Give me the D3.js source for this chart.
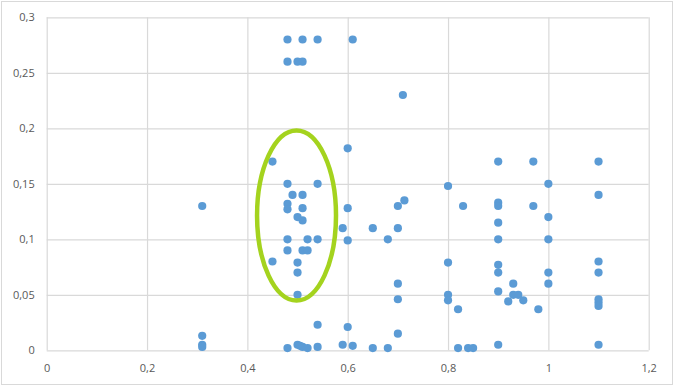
<!DOCTYPE html>
<html>
<head>
<meta charset="utf-8">
<script src="https://cdn.jsdelivr.net/npm/d3@7"></script>
<style>
  body { margin: 0; background: #fff; }
  svg { display: block; }
</style>
</head>
<body>
<div id="chart"></div>
<script>
var w = 681;
var h = 391;

// tick values and labels (comma decimals as in the original)
var xTickValues = [0, 0.2, 0.4, 0.6, 0.8, 1, 1.2];
var xTickLabels = ["0", "0,2", "0,4", "0,6", "0,8", "1", "1,2"];
var yTickValues = [0, 0.05, 0.1, 0.15, 0.2, 0.25, 0.3];
var yTickLabels = ["0", "0,05", "0,1", "0,15", "0,2", "0,25", "0,3"];

// scatter points
var xValues = [
  0.31, 0.31, 0.31, 0.31,
  0.45, 0.45,
  0.48, 0.51, 0.54, 0.61,
  0.48, 0.50, 0.51,
  0.71, 0.60,
  0.48, 0.54, 0.49, 0.51,
  0.48, 0.48, 0.51, 0.50, 0.51,
  0.48, 0.52, 0.54, 0.48, 0.51, 0.52,
  0.50, 0.50, 0.50,
  0.54, 0.60,
  0.48, 0.50, 0.505, 0.51, 0.52, 0.54, 0.59, 0.61, 0.65, 0.68,
  0.59, 0.60, 0.60, 0.65, 0.68,
  0.70, 0.713, 0.70, 0.70, 0.70, 0.70,
  0.80, 0.80, 0.80, 0.80, 0.82, 0.82, 0.84, 0.85, 0.83,
  0.90, 0.90, 0.90, 0.90, 0.90, 0.90, 0.90, 0.90, 0.90,
  0.92, 0.93, 0.93, 0.94, 0.95, 0.98,
  0.97, 0.97,
  1.0, 1.0, 1.0, 1.0, 1.0,
  1.1, 1.1, 1.1, 1.1, 1.1, 1.1, 1.1, 1.1
];
var yValues = [
  0.13, 0.013, 0.005, 0.003,
  0.17, 0.08,
  0.28, 0.28, 0.28, 0.28,
  0.26, 0.26, 0.26,
  0.23, 0.182,
  0.15, 0.15, 0.14, 0.14,
  0.132, 0.127, 0.128, 0.12, 0.117,
  0.10, 0.10, 0.10, 0.09, 0.09, 0.09,
  0.079, 0.07, 0.05,
  0.023, 0.021,
  0.002, 0.005, 0.004, 0.003, 0.002, 0.003, 0.005, 0.004, 0.002, 0.002,
  0.11, 0.128, 0.099, 0.11, 0.10,
  0.13, 0.135, 0.11, 0.06, 0.046, 0.015,
  0.148, 0.079, 0.05, 0.045, 0.037, 0.002, 0.002, 0.002, 0.13,
  0.17, 0.133, 0.13, 0.115, 0.10, 0.077, 0.07, 0.053, 0.005,
  0.044, 0.06, 0.05, 0.05, 0.045, 0.037,
  0.17, 0.13,
  0.15, 0.12, 0.10, 0.07, 0.06,
  0.17, 0.14, 0.08, 0.07, 0.046, 0.043, 0.04, 0.005
];

// highlight ellipse (center and radii in data units)
var ellipseCenter = [0.498, 0.1214];
var ellipseRadii = [0.0787, 0.0766];

var points = xValues.map(function(x, i) { return {x: x, y: yValues[i]}; });

var svg = d3.select("#chart")
  .append("svg")
  .attr("width", w)
  .attr("height", h);

// chart area frame
svg.append("rect")
  .attr("x", 1.5)
  .attr("y", 1.5)
  .attr("width", 671)
  .attr("height", 383)
  .attr("fill", "#fff")
  .attr("stroke", "#d9d9d9");

var xScale = d3.scaleLinear()
  .domain([0, 1.2])
  .range([46.7, 648.7]);

var yScale = d3.scaleLinear()
  .domain([0, 0.3])
  .range([350.3, 17.3]);

var plotW = xScale.range()[1] - xScale.range()[0];
var plotH = yScale.range()[0] - yScale.range()[1];

var yAxis = d3.axisLeft(yScale)
  .tickValues(yTickValues)
  .tickSize(-plotW)
  .tickPadding(12)
  .tickFormat(function(d, i) { return yTickLabels[i]; });

var xAxis = d3.axisBottom(xScale)
  .tickValues(xTickValues)
  .tickSize(-plotH)
  .tickPadding(14)
  .tickFormat(function(d, i) { return xTickLabels[i]; });

var gy = svg.append("g")
  .attr("transform", "translate(" + xScale.range()[0] + ",0)")
  .call(yAxis);

var gx = svg.append("g")
  .attr("transform", "translate(0," + yScale.range()[0] + ")")
  .call(xAxis);

[gx, gy].forEach(function(g) {
  g.select(".domain").remove();
  g.selectAll("line")
    .attr("stroke", "#d9d9d9")
    .attr("stroke-width", 1.2);
  g.selectAll("text")
    .attr("fill", "#595959")
    .attr("font-family", "'Open Sans', sans-serif")
    .attr("font-size", 11);
});

// dots
svg.append("g")
  .selectAll("circle")
  .data(points)
  .enter()
  .append("circle")
  .attr("cx", function(d) { return xScale(d.x); })
  .attr("cy", function(d) { return yScale(d.y); })
  .attr("r", 4.1)
  .attr("fill", "#5b9bd5");

// green highlight ellipse
svg.append("ellipse")
  .attr("cx", xScale(ellipseCenter[0]))
  .attr("cy", yScale(ellipseCenter[1]))
  .attr("rx", xScale(ellipseRadii[0]) - xScale(0))
  .attr("ry", yScale(0) - yScale(ellipseRadii[1]))
  .attr("fill", "none")
  .attr("stroke", "#a4d31e")
  .attr("stroke-width", 4.5);
</script>
</body>
</html>
